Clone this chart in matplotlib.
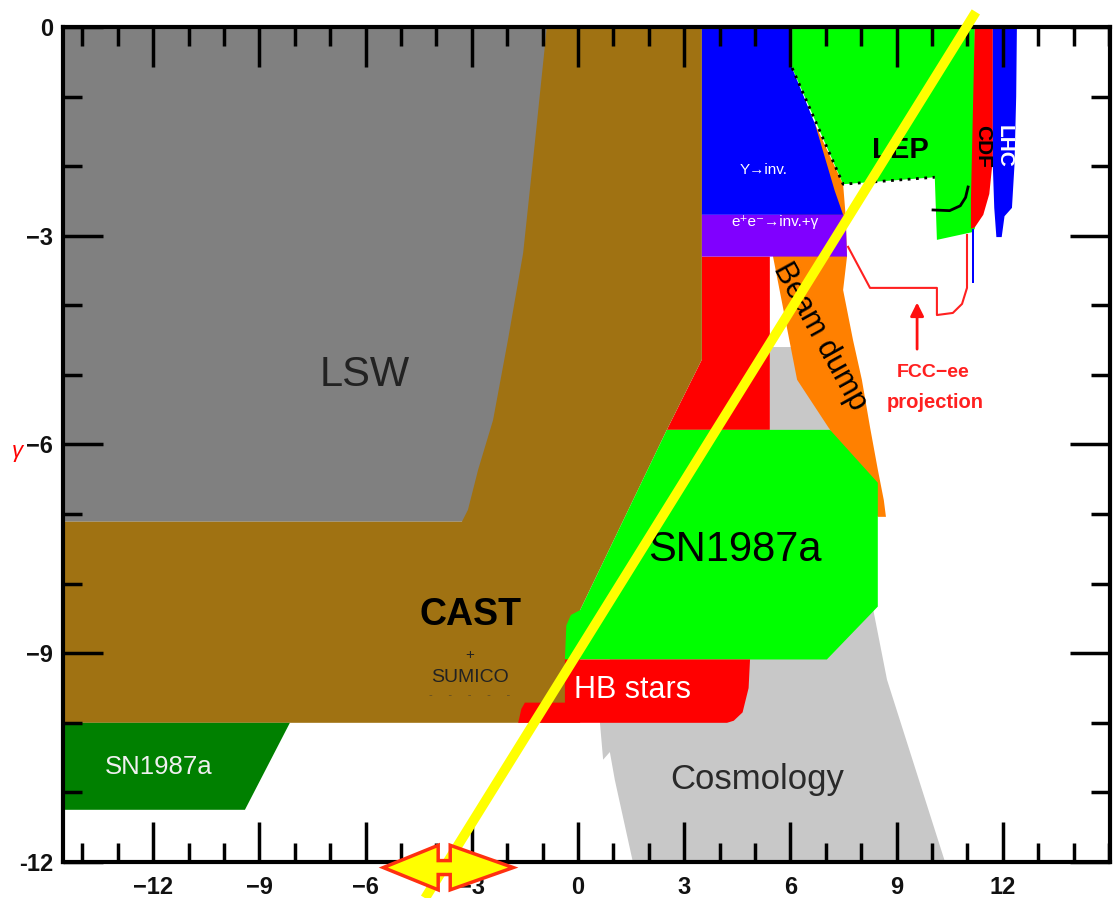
import matplotlib.pyplot as plt
from matplotlib.ticker import MultipleLocator
from matplotlib.patches import Polygon

plt.rcParams['font.family'] = ['Liberation Sans', 'DejaVu Sans']

# Exclusion regions, x = log10(m_a), y = log10(g_agamma)
lsw_x = [-14.6, 0.0, -2.0, -14.6]
lsw_y = [0.0, 0.0, -7.11, -7.11]

cast_x = [-0.88, 3.50, 3.50, 2.51, 0.06, 0.06, -14.6, -14.6, -3.28, -3.11, -2.82, -2.40, -1.98, -1.55, -1.21]
cast_y = [0.0, 0.0, -4.78, -5.79, -8.38, -10.0, -10.0, -7.11, -7.11, -6.94, -6.36, -5.65, -4.50, -3.25, -1.62]

cosmo_x = [5.42, 6.15, 7.12, 7.50, 8.73, 10.37, 1.55, 1.04, 0.90, 0.71, 0.62, 0.62, 3.0, 5.42]
cosmo_y = [-4.6, -4.6, -5.79, -6.20, -9.38, -12.0, -12.0, -10.82, -10.42, -10.53, -10.0, -9.5, -6.0, -5.79]

red_x = [3.50, 5.42, 5.42, 2.51, 3.50]
red_y = [-3.30, -3.30, -5.79, -5.79, -4.78]

beam_x = [6.70, 7.49, 7.56, 7.60, 7.49, 7.77, 8.02, 8.25, 8.47, 8.64, 8.70, 8.47, 7.12, 6.19, 5.51, 6.0]
beam_y = [-1.40, -2.26, -2.70, -3.30, -3.78, -4.50, -5.07, -5.75, -6.36, -6.80, -7.04, -7.04, -5.79, -5.07, -3.30, -2.0]

ups_x = [3.50, 6.05, 6.05, 6.70, 7.25, 7.49, 3.50]
ups_y = [0.0, 0.0, -0.59, -1.40, -2.35, -2.70, -2.70]

ee_x = [3.50, 7.56, 7.60, 3.50]
ee_y = [-2.70, -2.70, -3.30, -3.30]

lep_x = [6.05, 11.21, 11.21, 11.13, 10.14, 10.08, 7.49, 6.05]
lep_y = [0.0, 0.0, -2.90, -2.95, -3.06, -2.16, -2.26, -0.59]
lep_edge_x = [6.05, 7.49, 10.08]
lep_edge_y = [-0.59, -2.26, -2.16]
lep_hook_x = [10.03, 10.5, 10.8, 10.95, 11.02]
lep_hook_y = [-2.63, -2.64, -2.57, -2.45, -2.30]

cdf_x = [11.21, 11.72, 11.72, 11.62, 11.45, 11.21, 11.10, 11.10]
cdf_y = [0.0, 0.0, -1.9, -2.4, -2.7, -2.88, -2.9, -2.5]

lhc_x = [11.72, 12.40, 12.38, 12.33, 12.26, 12.05, 11.97, 11.82, 11.76, 11.72]
lhc_y = [0.0, 0.0, -1.0, -2.0, -2.60, -2.72, -3.02, -3.02, -2.6, -2.0]
lhc_tail_x = [11.12, 11.20, 11.20, 11.13]
lhc_tail_y = [-2.9, -2.9, -3.68, -3.68]

sn_x = [2.51, 7.12, 8.47, 8.47, 7.03, -0.37, -0.33, -0.20, 0.06]
sn_y = [-5.79, -5.79, -6.55, -8.33, -9.09, -9.09, -8.60, -8.45, -8.38]

hb_x = [-1.69, -1.60, -1.50, -0.37, -0.37, 4.86, 4.82, 4.65, 4.40, 4.21]
hb_y = [-10.0, -9.8, -9.71, -9.71, -9.09, -9.09, -9.5, -9.85, -9.97, -10.0]

sn_low_x = [-14.6, -8.14, -9.41, -14.6]
sn_low_y = [-10.0, -10.0, -11.25, -11.25]

fcc_x = [7.63, 8.25, 10.14, 10.14, 10.59, 10.85, 10.99, 10.99]
fcc_y = [-3.16, -3.75, -3.75, -4.14, -4.11, -3.98, -3.75, -2.99]

# highlighted band
band_x = [11.24, -4.32]
band_y = [0.216, -12.52]

# double arrow marker on the mass axis
arrow_cx, arrow_cy = -3.81, -12.08
arrow_dx = [-1.69, -0.14, -0.14, 0.20, 0.20, 1.98, 0.20, 0.20, 0.20, -0.14, -0.14, -0.14]
arrow_dy = [0.0, 0.32, 0.10, 0.10, 0.32, 0.0, -0.32, -0.10, -0.10, -0.10, -0.10, -0.32]

xticks = [-12, -9, -6, -3, 0, 3, 6, 9, 12]
xticklabels = ['−12', '−9', '−6', '−3', '0', '3', '6', '9', '12']
yticks = [0, -3, -6, -9, -12]
yticklabels = ['0', '−3', '−6', '−9', '-12']

fig = plt.figure(figsize=(11.13, 8.98), dpi=100)
ax = fig.add_axes([0.0566, 0.0401, 0.9407, 0.9299])
ax.set_xlim(-14.55, 15.03)
ax.set_ylim(-12, 0)

ax.fill(cosmo_x, cosmo_y, color='#c8c8c8', lw=0)
ax.fill(lsw_x, lsw_y, color='#808080', lw=0)
ax.fill(red_x, red_y, color='#ff0000', lw=0)
ax.fill(cast_x, cast_y, color='#a07212', lw=0)
ax.fill(sn_low_x, sn_low_y, color='#008000', lw=0)
ax.fill(beam_x, beam_y, color='#ff8000', lw=0)
ax.fill(ups_x, ups_y, color='#0000ff', lw=0)
ax.fill(ee_x, ee_y, color='#8000ff', lw=0)
ax.fill(lep_x, lep_y, color='#00ff00', lw=0)
ax.fill(cdf_x, cdf_y, color='#ff0000', lw=0)
ax.fill(lhc_x, lhc_y, color='#0000ff', lw=0)
ax.fill(lhc_tail_x, lhc_tail_y, color='#0000ff', lw=0)
ax.fill(sn_x, sn_y, color='#00ff00', lw=0)
ax.fill(hb_x, hb_y, color='#ff0000', lw=0)

ax.plot(lep_edge_x, lep_edge_y, color='black', lw=2, ls=(0, (1, 2)))
ax.plot(lep_hook_x, lep_hook_y, color='black', lw=2)
ax.plot(fcc_x, fcc_y, color='#ff2020', lw=1.5)
ax.annotate('', xy=(9.58, -3.92), xytext=(9.58, -4.67),
            arrowprops=dict(arrowstyle='-|>', color='#ff1010', lw=2, mutation_scale=20))

# labels
ax.text(-6.02, -5.0, 'LSW', fontsize=30, color='#222222', ha='center', va='center')
ax.text(-3.05, -8.45, 'CAST', fontsize=27, fontweight='bold', color='black', ha='center', va='center')
ax.text(-3.05, -9.02, '+', fontsize=11, color='#222222', ha='center', va='center')
ax.text(-3.05, -9.35, 'SUMICO', fontsize=14, color='#222222', ha='center', va='center')
ax.text(-3.05, -9.6, '-     -     -     -     -', fontsize=8, color='#333333', alpha=0.6,
        ha='center', va='center')
ax.text(4.43, -7.51, 'SN1987a', fontsize=30, color='black', ha='center', va='center')
ax.text(1.53, -9.53, 'HB stars', fontsize=22, color='white', ha='center', va='center')
ax.text(-11.86, -10.63, 'SN1987a', fontsize=18.5, color='#f0f0f0', ha='center', va='center')
ax.text(5.06, -10.82, 'Cosmology', fontsize=25, color='#2a2a2a', ha='center', va='center')
ax.text(6.84, -4.45, 'Beam dump', fontsize=22, color='black', ha='center', va='center',
        rotation=-61, rotation_mode='anchor')
ax.text(9.10, -1.77, 'LEP', fontsize=21, fontweight='bold', color='black', ha='center', va='center')
ax.text(11.44, -1.72, 'CDF', fontsize=15, fontweight='bold', color='black', ha='center',
        va='center', rotation=-90)
ax.text(12.03, -1.72, 'LHC', fontsize=15, fontweight='bold', color='white', ha='center',
        va='center', rotation=-90)
ax.text(5.25, -2.05, 'Υ→inv.', fontsize=11, color='white', ha='center', va='center')
ax.text(5.56, -2.80, 'e⁺e⁻→inv.+γ', fontsize=11, color='white', ha='center', va='center')
ax.text(10.03, -4.96, 'FCC−ee', fontsize=14, fontweight='bold', color='#ff2020', ha='center', va='center')
ax.text(10.08, -5.40, 'projection', fontsize=14.5, fontweight='bold', color='#ff2020',
        ha='center', va='center')

ax.plot(band_x, band_y, color='#ffff00', lw=7, solid_capstyle='butt', clip_on=False, zorder=5)
ax.add_patch(Polygon(list(zip([arrow_cx + d for d in arrow_dx], [arrow_cy + d for d in arrow_dy])),
                     closed=True, facecolor='#ffff00', edgecolor='#ff3010', lw=2.5,
                     clip_on=False, zorder=6))

ax.set_xticks(xticks)
ax.set_xticklabels(xticklabels)
ax.set_yticks(yticks)
ax.set_yticklabels(yticklabels)
ax.xaxis.set_minor_locator(MultipleLocator(1))
ax.yaxis.set_minor_locator(MultipleLocator(1))
ax.tick_params(which='both', direction='in', top=True, right=True, width=2.5)
ax.tick_params(which='major', length=29, labelsize=17, pad=10)
ax.tick_params(which='minor', length=14)
ax.tick_params(axis='y', which='major', pad=7)
for lab in ax.get_xticklabels() + ax.get_yticklabels():
    lab.set_fontweight('bold')
    lab.set_color('#111111')
for sp in ax.spines.values():
    sp.set_linewidth(3)

fig.text(0.016, 0.497, 'γ', fontsize=16, color='red', style='italic', ha='center', va='center')

fig.savefig('out.png', dpi=100)
